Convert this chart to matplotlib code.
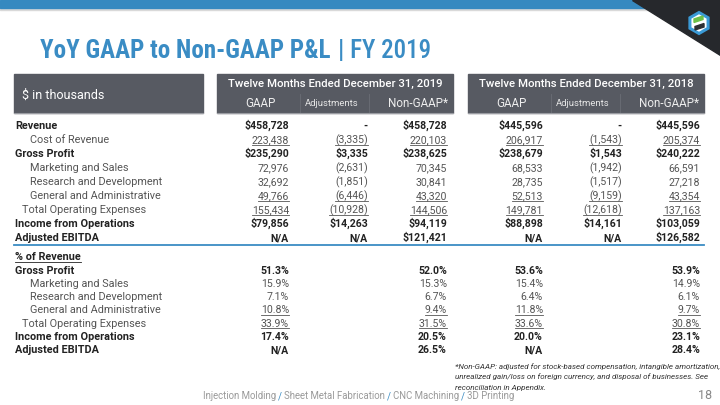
import matplotlib
matplotlib.use("Agg")
import matplotlib.pyplot as plt
from matplotlib.patches import Rectangle, Polygon, RegularPolygon
from matplotlib import font_manager

# table rows (values in $ thousands, shown as printed on the slide)
row_labels = ["Revenue", "Cost of Revenue", "Gross Profit", "Marketing and Sales",
              "Research and Development", "General and Administrative",
              "Total Operating Expenses", "Income from Operations", "Adjusted EBITDA"]
row_levels = [0, 2, 0, 2, 2, 2, 1, 0, 0]
row_underline = [1, 5, 6]

gaap_2019 = ["$458,728", "223,438", "$235,290", "72,976", "32,692", "49,766", "155,434", "$79,856", "N/A"]
adj_2019 = ["-", "(3,335)", "$3,335", "(2,631)", "(1,851)", "(6,446)", "(10,928)", "$14,263", "N/A"]
nongaap_2019 = ["$458,728", "220,103", "$238,625", "70,345", "30,841", "43,320", "144,506", "$94,119", "$121,421"]
gaap_2018 = ["$445,596", "206,917", "$238,679", "68,533", "28,735", "52,513", "149,781", "$88,898", "N/A"]
adj_2018 = ["-", "(1,543)", "$1,543", "(1,942)", "(1,517)", "(9,159)", "(12,618)", "$14,161", "N/A"]
nongaap_2018 = ["$445,596", "205,374", "$240,222", "66,591", "27,218", "43,354", "137,163", "$103,059", "$126,582"]

pct_labels = ["Gross Profit", "Marketing and Sales", "Research and Development",
              "General and Administrative", "Total Operating Expenses",
              "Income from Operations", "Adjusted EBITDA"]
pct_levels = [0, 2, 2, 2, 1, 0, 0]
pct_underline = [3, 4]
pct_gaap_2019 = ["51.3%", "15.9%", "7.1%", "10.8%", "33.9%", "17.4%", "N/A"]
pct_nongaap_2019 = ["52.0%", "15.3%", "6.7%", "9.4%", "31.5%", "20.5%", "26.5%"]
pct_gaap_2018 = ["53.6%", "15.4%", "6.4%", "11.8%", "33.6%", "20.0%", "N/A"]
pct_nongaap_2018 = ["53.9%", "14.9%", "6.1%", "9.7%", "30.8%", "23.1%", "28.4%"]

periods = ["Twelve Months Ended December 31, 2019", "Twelve Months Ended December 31, 2018"]
sub_heads = ["GAAP", "Adjustments", "Non-GAAP*"]
footnote = ["*Non-GAAP: adjusted for stock-based compensation, intangible amortization,",
            "unrealized gain/loss on foreign currency, and disposal of businesses. See",
            "reconciliation in Appendix."]
footer_parts = ["Injection Molding", "Sheet Metal Fabrication", "CNC Machining", "3D Printing"]

BLUE = "#3a8cc4"
BOX = "#575a62"
DARK = "#222222"
GREY = "#555555"

installed = {f.name for f in font_manager.fontManager.ttflist}
body_font = "Roboto" if "Roboto" in installed else "DejaVu Sans"
title_font = body_font
for cand in ["Roboto Condensed", "Liberation Sans Narrow", "Open Sans Condensed"]:
    if cand in installed:
        title_font = cand
        break
plt.rcParams["font.family"] = [body_font, "DejaVu Sans"]

fig = plt.figure(figsize=(7.2, 4.05), dpi=100)
ax = fig.add_axes([0, 0, 1, 1])
ax.set_xlim(0, 720)
ax.set_ylim(405, 0)
ax.axis("off")

# top band, dark corner and logo
ax.add_patch(Rectangle((0, 0), 720, 8, color="#3589c0", zorder=1))
ax.add_patch(Rectangle((0, 8), 700, 1.5, color="#d9d9d9", zorder=0.5))
ax.add_patch(Polygon([(632, 0), (720, 0), (720, 55)], closed=True, color="#26282c", zorder=2))
ax.add_patch(RegularPolygon((699, 23), 6, radius=10.5, orientation=0, facecolor="white",
                            edgecolor="#3a9ad6", lw=2.2, zorder=3))
ax.add_patch(Polygon([(694, 19), (703, 16), (703, 19.5), (694, 22.5)], color="#6cc04a", zorder=4))
ax.add_patch(Polygon([(695, 26.5), (704, 23.5), (704, 27), (695, 30)], color="#2d2f33", zorder=4))

# title
fig.canvas.draw()
renderer = fig.canvas.get_renderer()
inv = ax.transData.inverted()


def right_edge(t):
    bb = t.get_window_extent(renderer)
    return inv.transform((bb.x1, bb.y0))[0]


t1 = ax.text(40, 58, "YoY GAAP to Non-GAAP P&L ", fontsize=18, fontweight="bold",
             family=[title_font, "DejaVu Sans"], color=BLUE, va="baseline")
t2 = ax.text(right_edge(t1) + 2, 58, "| FY 2019", fontsize=18, fontweight="medium",
             family=[title_font, "DejaVu Sans"], color=BLUE, va="baseline")

# header boxes
ax.add_patch(Rectangle((14, 74), 189, 39, color=BOX))
ax.text(22, 95, "$ in thousands", fontsize=9, color="white", va="center")
box_x = [217, 468]
box_w = 236
for bx, per in zip(box_x, periods):
    ax.add_patch(Rectangle((bx, 74), box_w, 39, color=BOX))
    ax.plot([bx + 83, bx + 83], [94, 113], color="#6b6e76", lw=0.6)
    ax.plot([bx + 152, bx + 152], [94, 113], color="#6b6e76", lw=0.6)
    ax.text(bx + box_w / 2, 84, per, fontsize=8.2, fontweight="medium", color="white",
            ha="center", va="center")
    ax.text(bx + 43, 103.5, sub_heads[0], fontsize=8.4, color="#eeeeee", ha="center", va="center")
    ax.text(bx + 115, 103.5, sub_heads[1], fontsize=6.8, color="#e6e6e6", ha="center", va="center")
    ax.text(bx + 201, 103.5, sub_heads[2], fontsize=8.4, color="#eeeeee", ha="center", va="center")
for bx in [14] + box_x:
    w = 189 if bx == 14 else box_w
    ax.plot([bx, bx + w], [113, 113], color="#9a9ca2", lw=0.8)

col_right = [289, 368, 447, 543, 622, 700]
indent = {0: 15, 1: 22, 2: 30}
underlines = []


def draw_row(y, label, level, values, underline):
    bold = level == 0
    color = DARK if bold else GREY
    weight = "semibold" if bold else "normal"
    ax.text(indent[level], y, label, fontsize=7.8, color=color, fontweight=weight, va="baseline")
    for xr, v in zip(col_right, values):
        if v is None:
            continue
        t = ax.text(xr, y, v, fontsize=7.6, color=color, fontweight=weight, ha="right", va="baseline")
        if underline:
            underlines.append((t, y))


top_y0, top_step = 129, 14.0
cols_top = list(zip(gaap_2019, adj_2019, nongaap_2019, gaap_2018, adj_2018, nongaap_2018))
for i, (lab, lev, vals) in enumerate(zip(row_labels, row_levels, cols_top)):
    draw_row(top_y0 + i * top_step, lab, lev, vals, i in row_underline)

ax.plot([14, 704], [245, 245], color=BLUE, lw=1.3)

t = ax.text(15, 260.5, "% of Revenue", fontsize=7.8, color=DARK, fontweight="semibold", va="baseline")
underlines.append((t, 260.5))
pct_y0, pct_step = 273.5, 13.3
cols_pct = list(zip(pct_gaap_2019, [None] * 7, pct_nongaap_2019, pct_gaap_2018, [None] * 7, pct_nongaap_2018))
for i, (lab, lev, vals) in enumerate(zip(pct_labels, pct_levels, cols_pct)):
    draw_row(pct_y0 + i * pct_step, lab, lev, vals, i in pct_underline)

fig.canvas.draw()
for t, y in underlines:
    bb = t.get_window_extent(renderer)
    x0 = inv.transform((bb.x0, bb.y0))[0]
    x1 = inv.transform((bb.x1, bb.y0))[0]
    ax.plot([x0, x1], [y + 1.6, y + 1.6], color=t.get_color(), lw=0.6)

# footnote
for k, line in enumerate(footnote):
    ax.text(455, 369 + k * 10.5, line, fontsize=5.75, style="italic", color="#333333", va="baseline")

# footer
x = 203
for k, part in enumerate(footer_parts):
    t = ax.text(x, 399, part, fontsize=6.9, color="#9a9a9a", va="baseline")
    x = right_edge(t) + 2
    if k < len(footer_parts) - 1:
        t = ax.text(x, 399, "/", fontsize=6.9, color=BLUE, va="baseline")
        x = right_edge(t) + 2
ax.text(712, 399, "18", fontsize=9, color="#888888", ha="right", va="baseline")

fig.savefig("out.png", dpi=100)
